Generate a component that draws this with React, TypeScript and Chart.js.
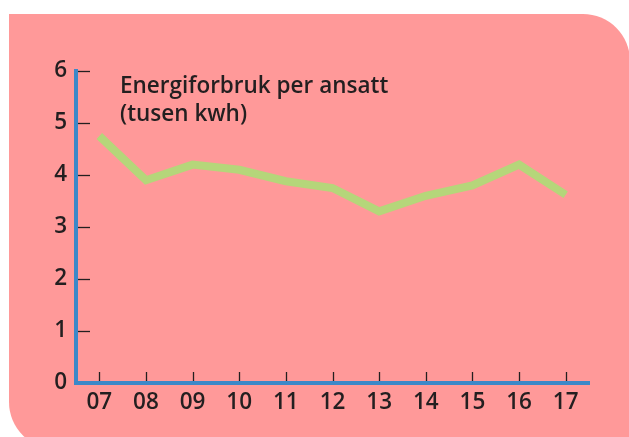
import React, { useEffect, useRef } from "react";
import { Chart, registerables } from "chart.js";

Chart.register(...registerables);

const categories = ["07", "08", "09", "10", "11", "12", "13", "14", "15", "16", "17"];
const energyPerEmployee = [4.75, 3.9, 4.2, 4.1, 3.88, 3.75, 3.3, 3.6, 3.8, 4.2, 3.62];
const yMin = 0;
const yMax = 6;
const yStep = 1;
const titleLines = ["Energiforbruk per ansatt", "(tusen kwh)"];

const PINK = "rgb(255,153,153)";
const GREEN = "rgb(181,214,122)";
const BLUE = "rgb(60,136,200)";
const TEXT = "rgb(35,31,32)";
const FONT = "'Open Sans'";
const WEIGHT = 600;
const SIZE = 22.5;

const innerTicks = {
  id: "innerTicks",
  beforeDatasetsDraw(chart: any) {
    const { ctx, chartArea } = chart;
    const x = chart.scales.x;
    const y = chart.scales.y;
    ctx.save();
    ctx.strokeStyle = TEXT;
    ctx.lineWidth = 1.3;
    y.ticks.forEach((t: any) => {
      if (t.value === yMin) return;
      const py = Math.round(y.getPixelForValue(t.value)) + 0.5;
      ctx.beginPath();
      ctx.moveTo(chartArea.left + 2, py);
      ctx.lineTo(chartArea.left + 14, py);
      ctx.stroke();
    });
    x.ticks.forEach((_t: any, i: number) => {
      const px = Math.round(x.getPixelForTick(i)) + 0.5;
      ctx.beginPath();
      ctx.moveTo(px, chartArea.bottom - 2);
      ctx.lineTo(px, chartArea.bottom - 11);
      ctx.stroke();
    });
    ctx.restore();
  },
};

const titleText = {
  id: "titleText",
  afterDraw(chart: any) {
    const { ctx, chartArea } = chart;
    ctx.save();
    ctx.fillStyle = TEXT;
    ctx.font = `${WEIGHT} ${SIZE}px ${FONT}`;
    ctx.textAlign = "left";
    ctx.textBaseline = "alphabetic";
    titleLines.forEach((line, i) => {
      ctx.fillText(line, chartArea.left + 44, chartArea.top + 22 + i * 28);
    });
    ctx.restore();
  },
};

export default function App() {
  const ref = useRef<HTMLCanvasElement | null>(null);

  useEffect(() => {
    if (!ref.current) return;
    const chart = new Chart(ref.current, {
      type: "line",
      data: {
        labels: categories,
        datasets: [
          {
            data: energyPerEmployee,
            borderColor: GREEN,
            borderWidth: 8,
            pointRadius: 0,
            tension: 0,
            borderCapStyle: "butt",
            borderJoinStyle: "miter",
            fill: false,
          },
        ],
      },
      options: {
        animation: false,
        responsive: false,
        maintainAspectRatio: false,
        layout: { padding: { left: 0, right: 40, top: 71, bottom: 0 } },
        plugins: {
          legend: { display: false },
          tooltip: { enabled: false },
          title: { display: false },
        },
        scales: {
          x: {
            type: "category",
            offset: true,
            grid: { display: true, drawOnChartArea: false, drawTicks: false },
            border: { display: true, color: BLUE, width: 4 },
            ticks: {
              color: TEXT,
              font: { family: FONT, size: SIZE, weight: WEIGHT },
              padding: 6,
              maxRotation: 0,
              autoSkip: false,
            },
            afterFit: (s: any) => {
              s.height = 54;
            },
          },
          y: {
            min: yMin,
            max: yMax,
            grid: { display: true, drawOnChartArea: false, drawTicks: false },
            border: { display: true, color: BLUE, width: 4 },
            ticks: {
              stepSize: yStep,
              color: TEXT,
              font: { family: FONT, size: SIZE, weight: WEIGHT },
              padding: 9,
            },
            afterFit: (s: any) => {
              s.width = 76;
            },
          },
        },
      },
      plugins: [innerTicks, titleText],
    } as any);
    return () => chart.destroy();
  }, []);

  return (
    <div
      style={{
        position: "absolute",
        left: 0,
        top: 0,
        width: 629,
        height: 437,
        overflow: "hidden",
        background: "#fff",
      }}
    >
      <div
        style={{
          position: "absolute",
          left: 9,
          top: 14,
          width: 621,
          height: 435,
          background: PINK,
          borderRadius: "0 47px 0 47px",
        }}
      />
      <canvas
        ref={ref}
        width={629}
        height={437}
        style={{ position: "absolute", left: 0, top: 0 }}
      />
    </div>
  );
}
